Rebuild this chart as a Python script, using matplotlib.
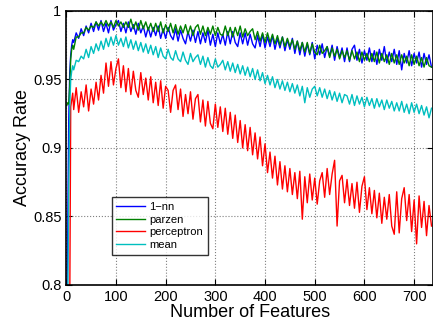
import numpy as np
import matplotlib
matplotlib.use("Agg")
from matplotlib import pyplot as plt

plt.rcParams['font.family'] = ['Liberation Sans', 'DejaVu Sans']

# number of features: dense start, then every 5 features
start_feats = [1, 3, 5, 7, 9, 11, 13]
features = np.concatenate([start_feats, np.arange(15, 736, 5)])

nn1 = [0.78, 0.84, 0.92, 0.955, 0.968, 0.975, 0.979,
       0.977, 0.984, 0.980, 0.987, 0.982, 0.989, 0.984, 0.991, 0.985, 0.992,
       0.986, 0.993, 0.985, 0.991, 0.984, 0.993, 0.986, 0.990, 0.993, 0.985,
       0.991, 0.984, 0.992, 0.985, 0.990, 0.983, 0.991, 0.984, 0.989, 0.981,
       0.988, 0.981, 0.988, 0.982, 0.989, 0.980, 0.987, 0.980, 0.988, 0.982,
       0.979, 0.987, 0.978, 0.986, 0.980, 0.976, 0.985, 0.978, 0.986, 0.977,
       0.985, 0.976, 0.984, 0.977, 0.986, 0.975, 0.983, 0.974, 0.984, 0.976,
       0.983, 0.975, 0.985, 0.976, 0.985, 0.977, 0.974, 0.984, 0.976, 0.984,
       0.975, 0.983, 0.976, 0.973, 0.982, 0.974, 0.983, 0.973, 0.981, 0.974,
       0.982, 0.972, 0.980, 0.973, 0.981, 0.971, 0.979, 0.972, 0.980, 0.969,
       0.978, 0.968, 0.977, 0.967, 0.976, 0.968, 0.977, 0.965, 0.975, 0.968,
       0.976, 0.966, 0.974, 0.967, 0.975, 0.964, 0.974, 0.966, 0.973, 0.963,
       0.973, 0.963, 0.972, 0.975, 0.964, 0.972, 0.962, 0.971, 0.964, 0.973,
       0.963, 0.971, 0.961, 0.972, 0.964, 0.974, 0.962, 0.970, 0.963, 0.972,
       0.961, 0.971, 0.957, 0.969, 0.962, 0.971, 0.960, 0.969, 0.962, 0.970,
       0.959, 0.969, 0.961, 0.968, 0.959]

parzen = [0.931, 0.933, 0.932, 0.945, 0.965, 0.972, 0.975,
          0.972, 0.981, 0.981, 0.984, 0.984, 0.988, 0.986, 0.989, 0.988, 0.992,
          0.989, 0.992, 0.989, 0.993, 0.989, 0.992, 0.988, 0.993, 0.989, 0.992,
          0.988, 0.992, 0.988, 0.994, 0.987, 0.992, 0.986, 0.993, 0.987, 0.992,
          0.986, 0.991, 0.985, 0.991, 0.985, 0.992, 0.984, 0.990, 0.985, 0.991,
          0.984, 0.990, 0.983, 0.989, 0.984, 0.990, 0.983, 0.989, 0.982, 0.988,
          0.990, 0.983, 0.989, 0.982, 0.988, 0.983, 0.989, 0.982, 0.988, 0.983,
          0.982, 0.989, 0.982, 0.988, 0.981, 0.988, 0.982, 0.989, 0.981, 0.987,
          0.982, 0.985, 0.987, 0.979, 0.985, 0.978, 0.984, 0.977, 0.984, 0.977,
          0.983, 0.976, 0.982, 0.975, 0.981, 0.974, 0.980, 0.974, 0.979, 0.972,
          0.978, 0.971, 0.977, 0.970, 0.977, 0.969, 0.976, 0.970, 0.968, 0.975,
          0.969, 0.971, 0.974, 0.966, 0.973, 0.967, 0.972, 0.965, 0.971, 0.966,
          0.971, 0.964, 0.971, 0.965, 0.970, 0.963, 0.970, 0.964, 0.969, 0.963,
          0.969, 0.963, 0.970, 0.962, 0.969, 0.963, 0.968, 0.961, 0.969, 0.962,
          0.968, 0.961, 0.968, 0.962, 0.967, 0.960, 0.968, 0.961, 0.967, 0.960,
          0.966, 0.959, 0.966, 0.960, 0.959]

perceptron = [0.70, 0.70, 0.72, 0.78, 0.930, 0.935, 0.940,
              0.928, 0.944, 0.926, 0.941, 0.930, 0.946, 0.927, 0.943, 0.932, 0.948,
              0.935, 0.953, 0.940, 0.962, 0.945, 0.963, 0.946, 0.958, 0.965, 0.944,
              0.960, 0.941, 0.958, 0.939, 0.956, 0.942, 0.937, 0.955, 0.939, 0.951,
              0.935, 0.952, 0.933, 0.948, 0.931, 0.949, 0.929, 0.945, 0.942, 0.926,
              0.942, 0.946, 0.928, 0.943, 0.923, 0.939, 0.925, 0.941, 0.921, 0.936,
              0.939, 0.919, 0.935, 0.916, 0.934, 0.918, 0.914, 0.932, 0.915, 0.930,
              0.912, 0.929, 0.910, 0.926, 0.907, 0.924, 0.904, 0.920, 0.900, 0.917,
              0.898, 0.915, 0.895, 0.911, 0.892, 0.908, 0.887, 0.903, 0.882, 0.897,
              0.878, 0.894, 0.873, 0.890, 0.870, 0.887, 0.868, 0.885, 0.866, 0.882,
              0.863, 0.883, 0.848, 0.879, 0.860, 0.881, 0.862, 0.878, 0.859, 0.876,
              0.882, 0.864, 0.885, 0.866, 0.881, 0.891, 0.843, 0.876, 0.880, 0.860,
              0.877, 0.858, 0.874, 0.856, 0.875, 0.853, 0.872, 0.879, 0.855, 0.871,
              0.852, 0.869, 0.849, 0.867, 0.845, 0.864, 0.848, 0.866, 0.843, 0.837,
              0.868, 0.838, 0.863, 0.871, 0.847, 0.866, 0.839, 0.862, 0.830, 0.865,
              0.842, 0.861, 0.836, 0.858, 0.843]

mean = [0.75, 0.78, 0.87, 0.93, 0.950, 0.956, 0.960,
        0.957, 0.964, 0.963, 0.967, 0.965, 0.972, 0.966, 0.974, 0.969, 0.976,
        0.971, 0.978, 0.972, 0.980, 0.974, 0.981, 0.975, 0.982, 0.975, 0.980,
        0.974, 0.981, 0.973, 0.979, 0.972, 0.978, 0.971, 0.977, 0.970, 0.976,
        0.969, 0.975, 0.968, 0.974, 0.966, 0.973, 0.967, 0.965, 0.972, 0.966,
        0.964, 0.971, 0.965, 0.963, 0.970, 0.964, 0.961, 0.969, 0.963, 0.966,
        0.968, 0.961, 0.967, 0.959, 0.966, 0.960, 0.958, 0.965, 0.959, 0.961,
        0.964, 0.957, 0.963, 0.956, 0.962, 0.955, 0.961, 0.954, 0.960, 0.953,
        0.959, 0.952, 0.958, 0.950, 0.957, 0.949, 0.955, 0.947, 0.953, 0.946,
        0.952, 0.944, 0.950, 0.943, 0.949, 0.942, 0.948, 0.941, 0.947, 0.940,
        0.946, 0.938, 0.945, 0.933, 0.944, 0.937, 0.943, 0.945, 0.938, 0.944,
        0.937, 0.943, 0.936, 0.942, 0.935, 0.941, 0.934, 0.940, 0.933, 0.939,
        0.938, 0.932, 0.939, 0.931, 0.938, 0.932, 0.937, 0.930, 0.937, 0.931,
        0.936, 0.929, 0.936, 0.930, 0.935, 0.928, 0.935, 0.929, 0.934, 0.927,
        0.933, 0.927, 0.934, 0.926, 0.932, 0.925, 0.933, 0.926, 0.932, 0.925,
        0.931, 0.924, 0.930, 0.922, 0.929]

fig = plt.figure(figsize=(4.33, 3.22), dpi=100)
ax = fig.add_axes([0.153, 0.115, 0.847, 0.851])

ax.plot(features, nn1, color='#0000ff', lw=1, label='1\u2212nn')
ax.plot(features, parzen, color='#008000', lw=1, label='parzen')
ax.plot(features, perceptron, color='#ff0000', lw=1, label='perceptron')
ax.plot(features, mean, color='#00bfbf', lw=1, label='mean')

ax.set_xlim(0, 738)
ax.set_ylim(0.8, 1.0)
ax.set_xticks([0, 100, 200, 300, 400, 500, 600, 700])
ax.set_yticks([0.8, 0.85, 0.9, 0.95, 1.0])
ax.set_yticklabels(['0.8', '0.85', '0.9', '0.95', '1'])
ax.tick_params(direction='in', top=True, right=True, labelsize=10.5, length=4, width=0.8)
ax.grid(True, linestyle=':', color='#808080', lw=0.8)

for s in ax.spines.values():
    s.set_linewidth(1.2)

ax.set_xlabel('Number of Features', fontsize=13, labelpad=0)
ax.set_ylabel('Accuracy Rate', fontsize=13, labelpad=1)

leg = ax.legend(loc='upper left', bbox_to_anchor=(0.109, 0.34), fontsize=8,
                frameon=True, fancybox=False, handlelength=2.6, borderpad=0.4,
                labelspacing=0.25, handletextpad=0.4)
leg.get_frame().set_edgecolor('black')
leg.get_frame().set_linewidth(1.0)

plt.savefig('out.png', dpi=100)
